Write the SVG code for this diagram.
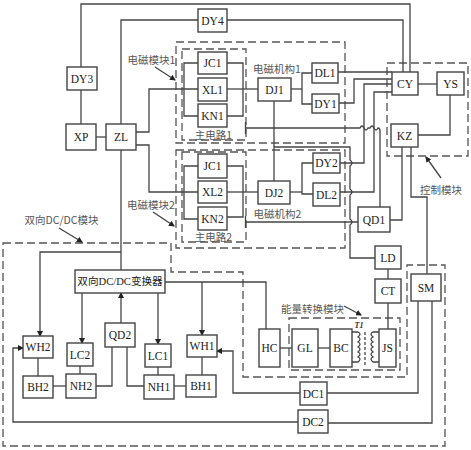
<svg xmlns="http://www.w3.org/2000/svg" width="471" height="450" viewBox="0 0 471 450">
<defs>
<marker id="a" markerWidth="6" markerHeight="6" refX="5" refY="3" orient="auto" markerUnits="userSpaceOnUse"><path d="M0,0L6,3L0,6z" fill="#222"/></marker>
</defs>
<style>
.n{fill:#fff;stroke:#444;stroke-width:1.4}
.l{fill:none;stroke:#444;stroke-width:1.3}
.d{fill:none;stroke:#555;stroke-width:1.3;stroke-dasharray:8 4}
.t{font-family:"Liberation Serif",serif;font-size:11.5px;fill:#222;text-anchor:middle;dominant-baseline:central}
.m{font-family:"Liberation Serif","Noto Sans CJK SC",serif;font-size:10.6px;fill:#222;text-anchor:middle;dominant-baseline:central}
.c{font-family:"Noto Sans CJK SC","Liberation Sans",sans-serif;font-size:10.5px;fill:#555;text-anchor:middle;dominant-baseline:central}
</style>
<rect width="471" height="450" fill="#fff"/>
<g id="regions">
<rect class="d" x="176" y="42" width="169" height="101"/>
<rect class="d" x="182" y="49" width="64" height="91"/>
<path class="d" d="M176 150H345V248H176Z"/>
<rect class="d" x="182" y="152" width="64" height="90"/>
<rect class="d" x="387" y="63" width="81" height="93"/>
<path class="d" d="M3 243H171V272H243V377H407V265H445V446H3Z"/>
<rect class="d" x="289" y="318" width="111" height="52"/>
</g>
<g id="connectors">
<path class="l" d="M81 67V4H410V72"/>
<path class="l" d="M81 90V124"/>
<path class="l" d="M198 20H121V124"/>
<path class="l" d="M227 20H403V72"/>
<path class="l" d="M96 137H106"/>
<path class="l" d="M136 132H149V89H198"/>
<path class="l" d="M136 145H149V192H198"/>
<path class="l" d="M198 63H184V116H198"/>
<path class="l" d="M198 166H184V219H198"/>
<path class="l" d="M227 63H243V116H227"/>
<path class="l" d="M227 89H258"/>
<path class="l" d="M227 166H243V217H227"/>
<path class="l" d="M227 192H258"/>
<path class="l" d="M291 89H302"/>
<path class="l" d="M312 73H302V104H312"/>
<path class="l" d="M290 192H302"/>
<path class="l" d="M313 163H302V194H313"/>
<path class="l" d="M274 101V181"/>
<path class="l" d="M338 72H392"/>
<path class="l" d="M339 103H354V79H392"/>
<path class="l" d="M340 163H364V84H392"/>
<path class="l" d="M340 192H374V92H392"/>
<path class="l" d="M245.500 122V134M245.500 128H360Q362 124 364 128T368 128H370Q372 124 374 128T378 128Q380 128 380 131V207"/>
<path class="l" d="M245.500 216V228M245.500 222H358"/>
<path class="l" d="M274 147H350V160Q354 163 350 166V189Q354 192 350 195V219Q354 222 350 225V258H375"/>
<path class="l" d="M418 84H437"/>
<path class="l" d="M450 95V135H418"/>
<path class="l" d="M402 147V220H390"/>
<path class="l" d="M411 147V197H427V274"/>
<path class="l" d="M388 269V279"/>
<path class="l" d="M388 303V329"/>
<path class="l" d="M418 301V393H327"/>
<path class="l" d="M432 301V423H328"/>
<path class="l" d="M300 393H233V351H217" marker-end="url(#a)"/>
<path class="l" d="M298 422H13V348H23" marker-end="url(#a)"/>
<path class="l" d="M121 150V270"/>
<path class="l" d="M121 252H40V336" marker-end="url(#a)"/>
<path class="l" d="M82 293V343" marker-end="url(#a)"/>
<path class="l" d="M121 323V293" marker-end="url(#a)"/>
<path class="l" d="M158 293V344" marker-end="url(#a)"/>
<path class="l" d="M165 282H266V329"/>
<path class="l" d="M202 282V335" marker-end="url(#a)"/>
<path class="l" d="M38 358V376"/>
<path class="l" d="M80 366V374"/>
<path class="l" d="M158 367V375"/>
<path class="l" d="M202 357V375"/>
<path class="l" d="M53 386H66"/>
<path class="l" d="M96 386H112V347"/>
<path class="l" d="M127 347V386H144"/>
<path class="l" d="M174 386H186"/>
<path class="l" d="M280 348H292"/>
<path class="l" d="M318 348H330"/>
<path class="l" d="M155 67L175 80" marker-end="url(#a)"/>
<path class="l" d="M153 212L174 226" marker-end="url(#a)"/>
<path class="l" d="M59 228L82 242" marker-end="url(#a)"/>
<path class="l" d="M441 178L426 157" marker-end="url(#a)"/>
<path class="l" d="M344 306L361 315" marker-end="url(#a)"/>
<path class="l" d="M352 332H358Q362 334 358 337Q362 339 358 342Q362 344 358 347Q362 349 358 352Q362 354 358 357Q362 359 358 362H352"/>
<path class="l" d="M379 332H373Q369 334 373 337Q369 339 373 342Q369 344 373 347Q369 349 373 352Q369 354 373 357Q369 359 373 362H379"/>
<path class="l" d="M365 332V365" stroke-dasharray="3 2"/>
</g>
<g id="DY4"><rect class="n" x="198" y="9" width="29" height="23"/><text class="t" x="212.500" y="20.500">DY4</text></g>
<g id="DY3"><rect class="n" x="67" y="67" width="30" height="23"/><text class="t" x="82" y="78.500">DY3</text></g>
<g id="XP"><rect class="n" x="66" y="124" width="30" height="26"/><text class="t" x="81" y="137">XP</text></g>
<g id="ZL"><rect class="n" x="106" y="124" width="30" height="26"/><text class="t" x="121" y="137">ZL</text></g>
<g id="JC1a"><rect class="n" x="198" y="52" width="29" height="22"/><text class="t" x="212.500" y="63">JC1</text></g>
<g id="XL1"><rect class="n" x="198" y="78" width="29" height="23"/><text class="t" x="212.500" y="89.500">XL1</text></g>
<g id="KN1"><rect class="n" x="198" y="104" width="29" height="23"/><text class="t" x="212.500" y="115.500">KN1</text></g>
<g id="JC1b"><rect class="n" x="198" y="154" width="29" height="24"/><text class="t" x="212.500" y="166">JC1</text></g>
<g id="XL2"><rect class="n" x="198" y="181" width="29" height="22"/><text class="t" x="212.500" y="192">XL2</text></g>
<g id="KN2"><rect class="n" x="198" y="207" width="29" height="23"/><text class="t" x="212.500" y="218.500">KN2</text></g>
<g id="DJ1"><rect class="n" x="258" y="78" width="33" height="23"/><text class="t" x="274.500" y="89.500">DJ1</text></g>
<g id="DJ2"><rect class="n" x="258" y="181" width="32" height="23"/><text class="t" x="274" y="192.500">DJ2</text></g>
<g id="DL1"><rect class="n" x="312" y="63" width="26" height="20"/><text class="t" x="325" y="73">DL1</text></g>
<g id="DY1"><rect class="n" x="312" y="94" width="27" height="19"/><text class="t" x="325.500" y="103.500">DY1</text></g>
<g id="DY2"><rect class="n" x="313" y="153" width="27" height="20"/><text class="t" x="326.500" y="163">DY2</text></g>
<g id="DL2"><rect class="n" x="313" y="183" width="27" height="23"/><text class="t" x="326.500" y="194.500">DL2</text></g>
<g id="CY"><rect class="n" x="392" y="72" width="26" height="23"/><text class="t" x="405" y="83.500">CY</text></g>
<g id="YS"><rect class="n" x="437" y="72" width="27" height="23"/><text class="t" x="450.500" y="83.500">YS</text></g>
<g id="KZ"><rect class="n" x="391" y="124" width="27" height="23"/><text class="t" x="404.500" y="135.500">KZ</text></g>
<g id="QD1"><rect class="n" x="358" y="207" width="32" height="25"/><text class="t" x="374" y="219.500">QD1</text></g>
<g id="LD"><rect class="n" x="375" y="246" width="26" height="23"/><text class="t" x="388" y="257.500">LD</text></g>
<g id="CT"><rect class="n" x="375" y="279" width="26" height="24"/><text class="t" x="388" y="291">CT</text></g>
<g id="SM"><rect class="n" x="411" y="274" width="30" height="27"/><text class="t" x="426" y="287.500">SM</text></g>
<g id="HC"><rect class="n" x="259" y="329" width="21" height="38"/><text class="t" x="269.500" y="348">HC</text></g>
<g id="GL"><rect class="n" x="292" y="329" width="26" height="38"/><text class="t" x="305" y="348">GL</text></g>
<g id="BC"><rect class="n" x="330" y="329" width="22" height="38"/><text class="t" x="341" y="348">BC</text></g>
<g id="JS"><rect class="n" x="379" y="329" width="17" height="38"/><text class="t" x="387.500" y="348">JS</text></g>
<g id="DC1"><rect class="n" x="300" y="382" width="27" height="23"/><text class="t" x="313.500" y="393.500">DC1</text></g>
<g id="DC2"><rect class="n" x="298" y="410" width="30" height="23"/><text class="t" x="313" y="421.500">DC2</text></g>
<g id="converter"><rect class="n" x="75" y="270" width="90" height="23"/><text class="m" x="120" y="281.500">双向DC/DC变换器</text></g>
<g id="WH2"><rect class="n" x="23" y="336" width="30" height="22"/><text class="t" x="38" y="347">WH2</text></g>
<g id="BH2"><rect class="n" x="23" y="376" width="30" height="22"/><text class="t" x="38" y="387">BH2</text></g>
<g id="LC2"><rect class="n" x="67" y="343" width="26" height="23"/><text class="t" x="80" y="354.500">LC2</text></g>
<g id="NH2"><rect class="n" x="66" y="374" width="30" height="24"/><text class="t" x="81" y="386">NH2</text></g>
<g id="QD2"><rect class="n" x="105" y="323" width="30" height="24"/><text class="t" x="120" y="335">QD2</text></g>
<g id="LC1"><rect class="n" x="145" y="344" width="26" height="23"/><text class="t" x="158" y="355.500">LC1</text></g>
<g id="NH1"><rect class="n" x="144" y="375" width="30" height="24"/><text class="t" x="159" y="387">NH1</text></g>
<g id="WH1"><rect class="n" x="187" y="335" width="30" height="22"/><text class="t" x="202" y="346">WH1</text></g>
<g id="BH1"><rect class="n" x="186" y="375" width="30" height="22"/><text class="t" x="201" y="386">BH1</text></g>
<g id="labels">
<text class="c" x="151.500" y="59">电磁模块1</text>
<text class="c" x="151" y="204">电磁模块2</text>
<text class="c" x="213.500" y="134">主电路1</text>
<text class="c" x="213.500" y="236">主电路2</text>
<text class="c" x="277" y="68">电磁机构1</text>
<text class="c" x="277.500" y="213">电磁机构2</text>
<text class="c" x="441" y="189">控制模块</text>
<text class="c" x="61.500" y="219">双向DC/DC模块</text>
<text class="c" x="312.500" y="308">能量转换模块</text>
<text x="359" y="325" font-family="Liberation Serif,serif" font-size="8" font-style="italic" font-weight="bold" fill="#333" text-anchor="middle" dominant-baseline="central">T1</text>
</g>
</svg>
